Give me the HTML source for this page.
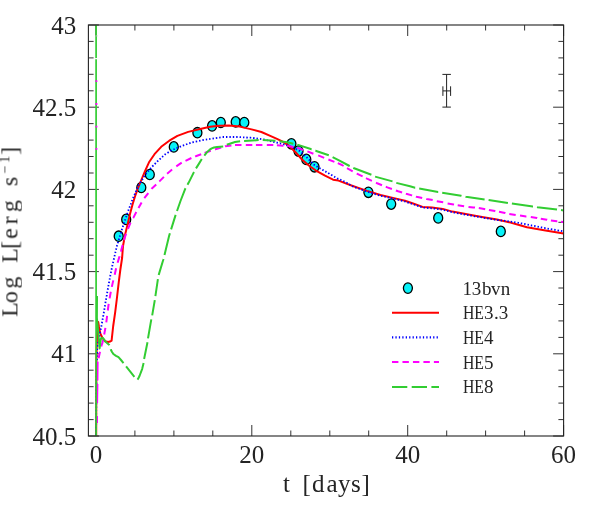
<!DOCTYPE html><html><head><meta charset="utf-8"><title>plot</title><style>html,body{margin:0;padding:0;background:#fff}svg{display:block}text{font-family:"Liberation Serif",serif;fill:#222}</style></head><body>
<svg width="599" height="518" viewBox="0 0 599 518">
<rect width="599" height="518" fill="#fff"/>
<defs><clipPath id="c"><rect x="88.4" y="25.0" width="475.2" height="411.0"/></clipPath></defs>
<path d="M95.9,436.0v-11.0M95.9,25.0v11.0M134.9,436.0v-5.5M134.9,25.0v5.5M173.9,436.0v-5.5M173.9,25.0v5.5M212.8,436.0v-5.5M212.8,25.0v5.5M251.8,436.0v-11.0M251.8,25.0v11.0M290.8,436.0v-5.5M290.8,25.0v5.5M329.8,436.0v-5.5M329.8,25.0v5.5M368.7,436.0v-5.5M368.7,25.0v5.5M407.7,436.0v-11.0M407.7,25.0v11.0M446.7,436.0v-5.5M446.7,25.0v5.5M485.6,436.0v-5.5M485.6,25.0v5.5M524.6,436.0v-5.5M524.6,25.0v5.5M563.6,436.0v-11.0M563.6,25.0v11.0M88.4,436.0h10.5M563.6,436.0h-10.5M88.4,419.6h5.2M563.6,419.6h-5.2M88.4,403.1h5.2M563.6,403.1h-5.2M88.4,386.7h5.2M563.6,386.7h-5.2M88.4,370.2h5.2M563.6,370.2h-5.2M88.4,353.8h10.5M563.6,353.8h-10.5M88.4,337.4h5.2M563.6,337.4h-5.2M88.4,320.9h5.2M563.6,320.9h-5.2M88.4,304.5h5.2M563.6,304.5h-5.2M88.4,288.0h5.2M563.6,288.0h-5.2M88.4,271.6h10.5M563.6,271.6h-10.5M88.4,255.2h5.2M563.6,255.2h-5.2M88.4,238.7h5.2M563.6,238.7h-5.2M88.4,222.3h5.2M563.6,222.3h-5.2M88.4,205.8h5.2M563.6,205.8h-5.2M88.4,189.4h10.5M563.6,189.4h-10.5M88.4,173.0h5.2M563.6,173.0h-5.2M88.4,156.5h5.2M563.6,156.5h-5.2M88.4,140.1h5.2M563.6,140.1h-5.2M88.4,123.6h5.2M563.6,123.6h-5.2M88.4,107.2h10.5M563.6,107.2h-10.5M88.4,90.8h5.2M563.6,90.8h-5.2M88.4,74.3h5.2M563.6,74.3h-5.2M88.4,57.9h5.2M563.6,57.9h-5.2M88.4,41.4h5.2M563.6,41.4h-5.2M88.4,25.0h10.5M563.6,25.0h-10.5" stroke="#333" stroke-width="1" fill="none"/>
<g clip-path="url(#c)" fill="none" stroke-linejoin="round">
<g fill="#08f2f8" stroke="#000" stroke-width="1.3">
<ellipse cx="118.7" cy="236.2" rx="4.5" ry="5.2"/>
<ellipse cx="126.2" cy="219.4" rx="4.5" ry="5.2"/>
<ellipse cx="141.3" cy="187.5" rx="4.5" ry="5.2"/>
<ellipse cx="149.8" cy="174.5" rx="4.5" ry="5.2"/>
<ellipse cx="173.8" cy="146.9" rx="4.5" ry="5.2"/>
<ellipse cx="197.4" cy="132.7" rx="4.5" ry="5.2"/>
<ellipse cx="212.1" cy="125.9" rx="4.5" ry="5.2"/>
<ellipse cx="220.8" cy="122.5" rx="4.5" ry="5.2"/>
<ellipse cx="235.7" cy="121.9" rx="4.5" ry="5.2"/>
<ellipse cx="244.3" cy="122.5" rx="4.5" ry="5.2"/>
<ellipse cx="291.4" cy="143.8" rx="4.5" ry="5.2"/>
<ellipse cx="298.5" cy="151.1" rx="4.5" ry="5.2"/>
<ellipse cx="306.3" cy="159.4" rx="4.5" ry="5.2"/>
<ellipse cx="314.5" cy="166.8" rx="4.5" ry="5.2"/>
<ellipse cx="368.4" cy="192.3" rx="4.5" ry="5.2"/>
<ellipse cx="391.2" cy="204.1" rx="4.5" ry="5.2"/>
<ellipse cx="438.2" cy="217.9" rx="4.5" ry="5.2"/>
<ellipse cx="500.8" cy="231.4" rx="4.5" ry="5.2"/>
</g>
<path d="M96.2,436.0 L96.4,360.0 L97.0,336.0 L98.2,322.0 L99.0,327.0 L100.3,333.5 L102.6,338.2 L105.0,341.2 L108.0,342.0 L110.0,341.6 L111.6,340.6 L113.2,326.0 L115.2,312.1 L116.7,300.0 L118.7,282.6 L120.3,270.0 L122.1,258.0 L123.0,246.0 L125.0,235.0 L127.4,225.2 L130.0,214.0 L132.6,204.3 L135.0,196.5 L137.8,188.7 L141.3,180.0 L145.0,171.1 L149.0,162.3 L154.5,154.2 L161.2,146.8 L169.3,140.7 L177.4,135.9 L188.2,131.9 L199.1,129.2 L210.0,126.8 L219.5,125.7 L228.9,125.5 L239.7,126.6 L250.5,129.1 L261.4,132.0 L270.8,136.1 L277.0,138.8 L283.1,141.9 L288.5,145.3 L295.3,152.0 L302.0,159.5 L308.8,165.5 L315.5,170.3 L325.0,175.7 L333.1,179.7 L338.5,180.6 L345.0,183.1 L353.5,186.2 L367.0,190.9 L380.5,195.0 L394.0,198.1 L405.0,200.8 L413.1,203.5 L422.6,206.9 L432.0,207.6 L442.8,208.9 L452.3,211.6 L463.1,213.6 L475.0,215.7 L483.5,217.2 L497.0,219.6 L510.5,222.6 L520.0,225.3 L527.0,227.3 L545.5,230.4 L563.6,233.4" stroke="#ff0000" stroke-width="2"/>
<path d="M96.1,435.0 L96.1,433.6 M96.1,431.6 L96.1,430.2 M96.1,428.2 L96.1,426.8 M96.2,424.8 L96.2,423.4 M96.2,421.4 L96.2,420.0 M96.2,418.0 L96.2,416.6 M96.2,414.6 L96.2,413.2 M96.2,411.2 L96.2,409.8 M96.3,407.8 L96.3,406.4 M96.3,404.4 L96.3,403.0 M96.3,401.0 L96.3,399.6 M96.3,397.6 L96.3,396.2 M96.3,394.2 L96.3,392.8 M96.3,390.8 L96.3,389.4 M96.4,387.4 L96.4,386.0 M96.4,384.0 L96.4,382.6 M96.4,380.6 L96.4,380.0 L96.4,379.2 M96.5,377.2 L96.5,375.8 M96.6,373.8 L96.6,372.4 M96.7,370.4 L96.7,369.0 M96.8,367.0 L96.8,365.6 M96.8,363.6 L96.9,362.2 M96.9,360.2 L97.0,358.8 M97.0,356.8 L97.1,355.4 M97.1,353.4 L97.2,352.0 M97.2,350.0 L97.3,348.6 M97.4,346.6 L97.6,345.2 M98.0,343.3 L98.3,341.9 M98.6,339.9 L98.9,338.5 M99.3,336.6 L99.5,335.2 M99.9,333.3 L100.2,331.8 M100.6,329.9 L100.9,328.5 M101.3,326.6 L101.6,325.2 M101.9,323.3 L102.2,321.8 M102.5,319.9 L102.8,318.5 M103.1,316.6 L103.4,315.1 M103.7,313.2 L103.9,312.2 L104.0,311.8 M104.3,309.9 L104.5,308.4 M104.8,306.5 L105.1,305.1 M105.4,303.2 L105.6,301.7 M106.0,299.8 L106.2,298.4 M106.6,296.5 L106.8,295.0 M107.1,293.1 L107.4,291.7 M107.7,289.8 L108.0,288.3 M108.3,286.4 L108.4,285.9 L108.6,285.0 M108.9,283.1 L109.2,281.6 M109.6,279.7 L109.8,278.3 M110.2,276.4 L110.4,275.0 M110.8,273.0 L111.1,271.6 M111.5,269.7 L111.8,268.3 M112.2,266.4 L112.5,265.0 M113.0,263.1 L113.3,261.7 M113.7,259.8 L114.1,258.3 M114.5,256.4 L114.7,255.5 L114.8,255.0 M115.2,253.1 L115.6,251.7 M116.0,249.8 L116.3,248.4 M116.8,246.5 L116.9,246.0 L117.2,245.1 M117.7,243.2 L118.2,241.9 M118.7,240.0 L119.2,238.6 M119.7,236.7 L120.1,235.4 M120.7,233.5 L121.1,232.1 M121.7,230.2 L122.1,228.8 M122.7,227.0 L123.2,225.6 M123.8,223.8 L124.3,222.4 M124.9,220.5 L125.3,219.2 M126.0,217.3 L126.4,215.9 M127.0,214.1 L127.4,213.0 L127.5,212.7 M128.2,210.9 L128.7,209.5 M129.4,207.7 L129.9,206.4 M130.6,204.5 L131.1,203.2 M131.8,201.3 L132.3,200.0 M133.0,198.2 L133.6,196.9 M134.4,195.1 L135.0,193.7 M135.7,192.0 L136.3,190.6 M137.1,188.8 L137.7,187.5 M138.5,185.7 L138.7,185.2 L139.2,184.5 M140.2,182.8 L141.0,181.6 M142.0,179.9 L142.8,178.7 M143.8,177.0 L144.6,175.8 M145.7,174.2 L146.7,173.1 M147.9,171.6 L148.8,170.5 M150.1,169.0 L151.0,167.9 M152.3,166.5 L153.4,165.4 M154.7,164.1 L155.8,163.0 M157.1,161.7 L158.2,160.6 M159.6,159.3 L160.7,158.3 M162.1,157.0 L163.2,156.1 M164.7,154.8 L165.3,154.2 L165.8,153.9 M167.5,152.9 L168.7,152.1 M170.4,151.1 L171.6,150.3 M173.4,149.5 L174.7,149.0 M176.5,148.2 L177.8,147.6 M179.6,146.9 L181.0,146.3 M182.8,145.6 L184.2,145.2 M186.0,144.5 L187.4,144.0 M189.2,143.4 L190.6,142.9 M192.4,142.3 L193.8,142.0 M195.7,141.6 L197.2,141.3 M199.1,140.9 L200.5,140.6 M202.4,140.1 L203.1,140.0 L203.8,139.9 M205.8,139.6 L207.2,139.4 M209.1,139.1 L210.5,138.9 M212.5,138.6 L213.9,138.4 M215.8,138.1 L217.3,137.9 M219.2,137.6 L220.6,137.4 M222.6,137.1 L223.5,137.0 L224.0,137.0 M226.0,137.0 L227.4,137.0 M229.4,137.0 L230.8,137.0 M232.8,137.0 L234.2,137.0 M236.2,137.0 L237.0,137.0 L237.6,137.0 M239.6,137.1 L241.0,137.2 M243.0,137.3 L244.4,137.4 M246.3,137.5 L247.8,137.6 M249.7,137.7 L250.5,137.7 L251.2,137.8 M253.1,138.0 L254.6,138.2 M256.5,138.5 L257.9,138.7 M259.9,138.9 L261.3,139.1 M263.2,139.4 L264.0,139.5 L264.7,139.7 M266.6,140.1 L268.0,140.5 M269.9,140.9 L271.3,141.3 M273.2,141.7 L273.5,141.8 L274.6,142.0 M276.5,142.5 L277.9,142.8 M279.8,143.3 L280.0,143.3 L281.2,143.6 M283.1,144.2 L284.5,144.6 M286.3,145.1 L287.7,145.5 M289.6,146.1 L291.0,146.5 M292.7,147.4 L294.0,148.0 M295.8,148.9 L297.0,149.6 M298.8,150.4 L299.3,150.7 L300.0,151.3 M301.4,152.6 L302.5,153.5 M303.9,154.8 L305.0,155.8 M306.5,157.1 L306.8,157.4 L307.5,158.1 M308.9,159.5 L309.9,160.5 M311.3,161.9 L312.3,163.0 M313.7,164.4 L314.2,164.9 L314.8,165.2 M316.5,166.2 L317.7,167.0 M319.4,168.0 L320.6,168.7 M322.3,169.7 L323.6,170.4 M325.3,171.4 L326.5,172.1 M328.2,173.1 L329.0,173.6 L329.4,173.9 M331.1,174.8 L332.4,175.6 M334.1,176.6 L335.3,177.3 M337.0,178.3 L337.2,178.4 L338.3,178.9 M340.1,179.7 L341.4,180.2 M343.2,181.0 L344.5,181.6 M346.3,182.5 L347.5,183.3 M349.2,184.3 L350.4,185.0 M352.1,186.0 L353.4,186.7 M355.2,187.4 L356.6,187.9 M358.4,188.5 L359.8,189.0 M361.6,189.7 L363.0,190.2 M364.8,190.8 L366.2,191.3 M368.0,191.9 L369.4,192.3 M371.3,192.9 L372.7,193.3 M374.5,193.9 L375.9,194.3 M377.8,194.9 L379.2,195.3 M381.0,195.8 L382.5,196.1 M384.4,196.6 L385.8,196.9 M387.7,197.3 L389.1,197.7 M391.0,198.1 L392.4,198.4 M394.3,198.9 L395.7,199.2 M397.6,199.7 L399.0,200.0 M400.9,200.5 L402.3,200.8 M404.2,201.3 L405.0,201.5 L405.6,201.7 M407.4,202.3 L408.8,202.8 M410.7,203.4 L412.0,203.8 M413.9,204.5 L415.3,205.0 M417.1,205.6 L418.5,206.1 M420.3,206.7 L421.7,207.2 M423.6,207.6 L425.0,207.7 M427.0,207.9 L428.4,208.0 M430.4,208.2 L431.8,208.3 M433.7,208.5 L435.2,208.7 M437.1,208.9 L438.5,209.1 M440.5,209.3 L441.9,209.5 M443.8,209.9 L445.2,210.3 M447.1,210.8 L448.5,211.2 M450.4,211.7 L451.8,212.1 M453.7,212.5 L455.1,212.7 M457.0,213.1 L458.5,213.3 M460.4,213.7 L461.8,214.0 M463.7,214.3 L465.2,214.6 M467.1,214.9 L468.5,215.2 M470.4,215.5 L471.9,215.7 M473.8,216.1 L475.0,216.3 L475.2,216.3 M477.1,216.6 L478.6,216.9 M480.5,217.2 L481.9,217.4 M483.8,217.8 L485.3,218.0 M487.2,218.3 L488.6,218.6 M490.5,218.9 L492.0,219.1 M493.9,219.5 L495.3,219.7 M497.2,220.0 L498.7,220.2 M500.6,220.4 L502.1,220.5 M504.0,220.7 L505.0,220.8 L505.4,220.9 M507.4,221.2 L508.8,221.4 M510.7,221.7 L512.2,221.9 M514.1,222.1 L515.5,222.4 M517.5,222.6 L518.5,222.8 L518.9,222.9 M520.8,223.3 L522.2,223.5 M524.1,223.9 L525.6,224.2 M527.5,224.6 L528.9,224.9 M530.8,225.3 L532.0,225.5 L532.2,225.5 M534.1,225.9 L535.6,226.2 M537.5,226.6 L538.9,226.9 M540.8,227.3 L542.2,227.5 M544.1,227.9 L545.5,228.2 L545.6,228.2 M547.5,228.6 L548.9,228.8 M550.8,229.1 L552.3,229.4 M554.2,229.7 L555.6,230.0 M557.5,230.3 L559.0,230.6 M560.9,230.9 L562.3,231.2" stroke="#0000ff" stroke-width="1.8"/>
<path d="M97.0,423.0 L97.0,420.0 L97.0,416.0 M97.1,403.0 L97.4,384.0 M97.4,380.5 L97.6,362.0 L97.7,361.5 M98.6,358.3 L100.0,351.8 M101.3,346.5 L101.5,345.5 L102.5,342.6 L103.1,340.1 M104.2,334.5 L105.4,327.9 M106.3,322.4 L107.1,315.8 M107.8,310.5 L108.5,305.0 L108.7,303.9 M109.6,298.4 L110.8,291.8 M111.8,286.9 L113.3,280.4 M114.7,274.8 L116.1,268.2 M117.6,262.7 L119.5,256.4 L119.5,256.3 M120.8,251.6 L121.0,251.0 L122.6,245.1 M124.0,240.2 L124.8,237.3 L126.1,233.8 M128.0,228.8 L130.5,222.6 M133.2,218.0 L133.3,217.9 L136.3,212.0 M138.5,208.1 L141.6,202.4 M144.3,198.2 L148.3,193.1 M151.5,188.9 L151.9,188.4 L156.2,184.4 M159.3,181.5 L159.4,181.4 L163.9,176.9 M167.1,173.7 L172.1,169.6 M176.3,166.3 L181.7,162.7 M185.5,160.8 L191.4,158.0 M195.1,156.4 L195.7,156.2 L201.2,154.2 M204.6,152.9 L206.5,152.2 L210.8,150.9 M215.0,149.5 L215.4,149.3 L221.2,147.6 M225.0,146.4 L225.5,146.2 L231.4,145.4 M235.0,145.0 L241.5,144.9 M245.8,144.9 L252.3,144.9 M255.9,144.9 L262.4,144.9 M266.8,145.0 L273.3,145.1 M276.9,145.3 L283.1,145.7 L283.4,145.7 M287.1,146.0 L289.9,146.2 L293.5,147.0 M297.2,147.8 L303.3,150.0 M307.4,151.4 L313.4,153.8 M318.2,155.4 L324.2,157.9 M328.4,159.5 L334.4,161.9 M337.8,163.1 L342.0,165.0 L343.6,166.0 M347.0,168.1 L352.7,171.3 M356.7,173.6 L356.9,173.7 L362.6,176.4 M366.0,178.1 L367.0,178.6 L371.9,180.8 M376.0,182.7 L377.2,183.3 L382.0,185.2 M385.8,186.7 L387.3,187.4 L391.9,189.0 M395.9,190.5 L398.1,191.3 L402.1,192.5 M405.9,193.6 L406.2,193.7 L411.8,195.4 L412.1,195.5 M415.9,196.6 L416.5,196.8 L422.2,198.0 M426.3,198.9 L426.6,199.0 L432.7,200.1 M436.8,201.2 L443.2,202.3 M447.6,203.4 L453.6,204.5 L454.0,204.6 M457.7,205.3 L464.1,206.2 M468.5,206.9 L473.4,207.4 L475.0,207.6 M478.8,208.1 L484.2,209.0 L485.2,209.2 M488.9,210.0 L495.0,211.1 L495.3,211.2 M499.0,211.8 L505.1,213.0 L505.4,213.1 M509.3,213.9 L515.7,214.9 M520.0,215.4 L526.1,216.4 L526.4,216.4 M530.8,217.1 L536.9,218.0 L537.2,218.1 M540.8,218.8 L546.9,219.7 L547.2,219.8 M550.9,220.4 L557.0,221.2 L557.3,221.2 M561.1,221.8 L563.6,222.1 L563.6,222.1" stroke="#ff00ff" stroke-width="2"/>
<path d="M96.1,24.6V436" stroke="#32cd32" stroke-width="1.7"/>
<path d="M97.0,296.0 L96.9,318.0 L97.7,326.0 L98.5,336.0 L99.6,348.4 L100.6,340.5 L101.2,338.0 L102.0,337.5" stroke="#32cd32" stroke-width="2"/>
<path d="M96.3,35.2v1.3" stroke="#9fb89f" stroke-width="2"/><path d="M96.3,57.9v1.4" stroke="#fff" stroke-width="2.4"/>
<path d="M96.4,80.3v1.8M96.4,103.1v1.8M96.4,125.7v1.8M96.4,147.9v1.8" stroke="#ff00ff" stroke-width="1.9"/>
<path d="M102.0,337.5 L103.2,338.4 L105.4,341.4 L109.3,345.1 L109.4,345.3 M110.7,349.2 L110.8,349.5 L112.0,352.0 L113.7,354.3 L116.0,355.9 L118.5,357.2 L121.0,360.0 L123.5,363.1 M126.1,366.3 L134.4,376.9 M137.5,379.6 L137.5,379.6 L138.4,378.3 L139.7,375.5 L142.2,368.8 L143.6,363.0 M144.1,359.0 L147.5,342.3 M148.0,338.3 L151.3,319.4 M152.2,315.4 L154.8,300.1 M155.4,296.1 L157.9,279.1 M158.7,275.1 L159.0,273.9 L163.2,260.0 L163.5,258.9 M164.5,254.9 L169.2,235.6 L169.9,233.3 M171.1,229.4 L175.4,215.6 L175.7,214.9 M177.0,211.0 L180.5,201.0 L185.3,188.7 L185.5,188.3 M187.5,184.7 L188.7,182.6 L193.8,172.4 L194.0,172.0 M196.0,168.4 L196.0,168.4 L199.0,163.6 L201.8,159.0 M204.3,155.7 L207.7,151.4 L209.7,149.7 L211.7,148.4 L214.0,147.5 L217.0,147.0 L223.2,146.4 M226.8,144.7 L235.0,142.0 L240.1,141.3 M244.1,141.1 L258.7,140.1 M262.7,140.1 L275.5,140.8 M279.5,141.3 L287.2,142.3 L293.3,143.7 M297.3,144.6 L297.3,144.6 L311.5,149.3 L311.6,149.3 M315.4,150.7 L315.5,150.7 L328.8,155.3 M332.6,157.1 L340.0,160.8 L349.5,166.0 L349.7,166.1 M353.3,167.9 L353.5,168.0 L371.4,174.8 M375.1,176.6 L392.5,181.4 M396.3,182.9 L410.0,186.2 L415.1,187.7 L415.2,187.7 M419.2,188.6 L438.1,192.0 L438.2,192.0 M442.2,192.7 L461.1,195.8 L461.5,195.9 M465.5,196.7 L465.8,196.8 L484.6,199.6 M488.6,200.1 L507.9,203.0 M511.9,203.5 L532.8,206.4 L533.0,206.4 M537.0,207.1 L537.4,207.2 L557.0,209.6 M561.0,210.1 L563.6,210.4" stroke="#32cd32" stroke-width="2"/>
</g>
<rect x="88.4" y="25.0" width="475.2" height="411.0" fill="none" stroke="#222" stroke-width="1.1"/>
<path d="M446.6,74.4V107.1M442.4,74.4H450.9M442.4,107.1H450.9M442.9,90.9H450.6M442.9,86.3V95.9M450.6,86.3V95.9" stroke="#222" stroke-width="1" fill="none"/>
<g opacity="0.99">
<text x="76.3" y="34.2" font-size="25" text-anchor="end">43</text>
<text x="76.3" y="115.6" font-size="25" text-anchor="end">42.5</text>
<text x="76.3" y="197.8" font-size="25" text-anchor="end">42</text>
<text x="76.3" y="280.0" font-size="25" text-anchor="end">41.5</text>
<text x="76.3" y="362.2" font-size="25" text-anchor="end">41</text>
<text x="76.3" y="445.2" font-size="25" text-anchor="end">40.5</text>
<text x="95.9" y="462.6" font-size="25" text-anchor="middle">0</text>
<text x="251.8" y="462.6" font-size="25" text-anchor="middle">20</text>
<text x="407.7" y="462.6" font-size="25" text-anchor="middle">40</text>
<text x="563.6" y="462.6" font-size="25" text-anchor="middle">60</text>
<text y="492" font-size="25" x="283 302.5 312 326.5 338 351 361.5">t[days]</text>
<g transform="translate(17.4,316.4) rotate(-90)"><text y="0" font-size="24" x="-0.5 13.3 27.8 53.5 67.5 77.5 92 104.3 130.3">LogL[ergs</text><text y="-8.5" font-size="14" x="143 153.5">−1</text><text y="0" font-size="24" x="161.5">]</text></g>
<text y="295.1" font-size="19" x="462.4 471.8 482 491.1 500.8">13bvn</text>
<text x="462.9" y="319.3" font-size="19" textLength="21" lengthAdjust="spacingAndGlyphs">HE</text>
<text y="319.3" font-size="19" x="484 494.1 498.7">3.3</text>
<text x="462.9" y="344.1" font-size="19" textLength="21" lengthAdjust="spacingAndGlyphs">HE</text>
<text y="344.1" font-size="19" x="484 494.1 498.7">4</text>
<text x="462.9" y="368.7" font-size="19" textLength="21" lengthAdjust="spacingAndGlyphs">HE</text>
<text y="368.7" font-size="19" x="484 494.1 498.7">5</text>
<text x="462.9" y="393.3" font-size="19" textLength="21" lengthAdjust="spacingAndGlyphs">HE</text>
<text y="393.3" font-size="19" x="484 494.1 498.7">8</text>
</g>
<ellipse cx="407.9" cy="288.1" rx="4.5" ry="5.25" fill="#08f2f8" stroke="#000" stroke-width="1.3"/>
<path d="M392,312.8H439" stroke="#ff0000" stroke-width="2"/>
<path d="M392,337.4H438" stroke="#0000ff" stroke-width="2.1" stroke-dasharray="1.25 2.18"/>
<path d="M392,361.9H439" stroke="#ff00ff" stroke-width="2" stroke-dasharray="6.4 4.07"/>
<path d="M392,386.9H439" stroke="#32cd32" stroke-width="2" stroke-dasharray="15.3 4.4"/>
</svg></body></html>
